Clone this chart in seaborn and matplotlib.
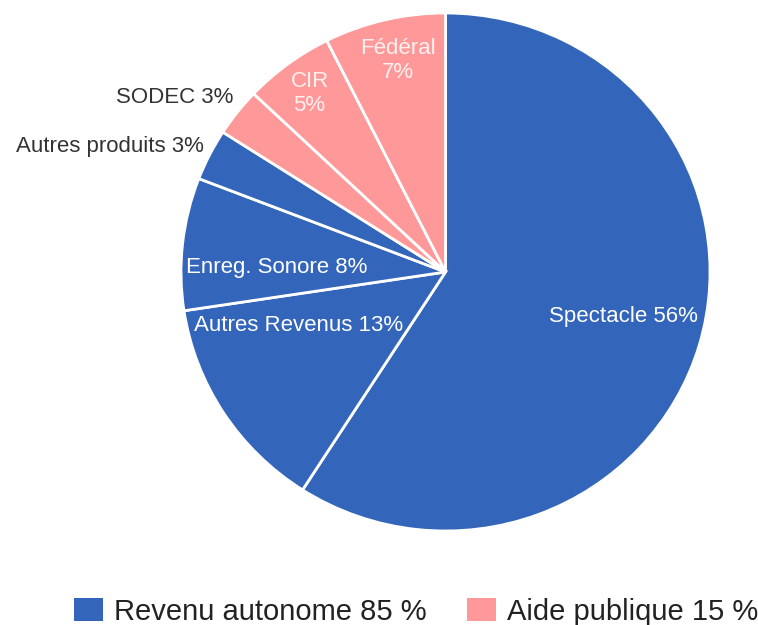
import matplotlib
matplotlib.use("Agg")
import matplotlib.pyplot as plt
from matplotlib.patches import Patch
import seaborn as sns

# ---- data ----
categories = ["Spectacle", "Autres Revenus", "Enreg. Sonore", "Autres produits",
              "SODEC", "CIR", "Fédéral"]
values = [59.0, 13.5, 8.25, 3.2, 3.0, 5.5, 7.4]
label_texts = ["Spectacle 56%", "Autres Revenus 13%", "Enreg. Sonore 8%",
               "Autres produits 3%", "SODEC 3%", "CIR\n5%", "Fédéral\n7%"]
groups = ["Revenu autonome", "Revenu autonome", "Revenu autonome", "Revenu autonome",
          "Aide publique", "Aide publique", "Aide publique"]
legend_labels = ["Revenu autonome 85 %", "Aide publique 15 %"]
group_names = ["Revenu autonome", "Aide publique"]

# ---- style ----
sns.set_style("white")
plt.rcParams["font.family"] = ["Liberation Sans", "DejaVu Sans"]

palette = dict(zip(group_names, ["#3366BB", "#FF9999"]))
colors = [palette[g] for g in groups]

fig = plt.figure(figsize=(7.58, 6.25), dpi=100)
ax = fig.add_axes([0.2388, 0.1504, 0.6979, 0.8288])

wedges, _ = ax.pie(values, colors=colors, startangle=90, counterclock=False,
                   radius=1.0, wedgeprops=dict(edgecolor="white", linewidth=2))
ax.set_xlim(-1, 1)
ax.set_ylim(-1, 1)
ax.set_aspect("auto")
ax.axis("off")

# label placement (axes-data coords relative to pie centre)
label_pos = [(0.673, -0.170, "center", "white"),
             (-0.556, -0.205, "center", "white"),
             (-0.638, 0.019, "center", "white"),
             (-0.915, 0.483, "right", "#333333"),
             (-0.802, 0.672, "right", "#333333"),
             (-0.514, 0.690, "center", "#FFF0F0"),
             (-0.178, 0.818, "center", "#FFF0F0")]
for txt, (x, y, ha, c) in zip(label_texts, label_pos):
    ax.text(x, y, txt, ha=ha, va="center", color=c, fontsize=16,
            linespacing=1.2)

handles = [Patch(facecolor=palette[g], edgecolor="none") for g in group_names]
fig.legend(handles, legend_labels, loc="center", bbox_to_anchor=(0.549, 0.021),
           ncol=2, frameon=False, fontsize=21, handlelength=1.0,
           handleheight=0.85, handletextpad=0.38, columnspacing=1.4,
           labelcolor="#222222")

fig.savefig("out.png", dpi=100)
